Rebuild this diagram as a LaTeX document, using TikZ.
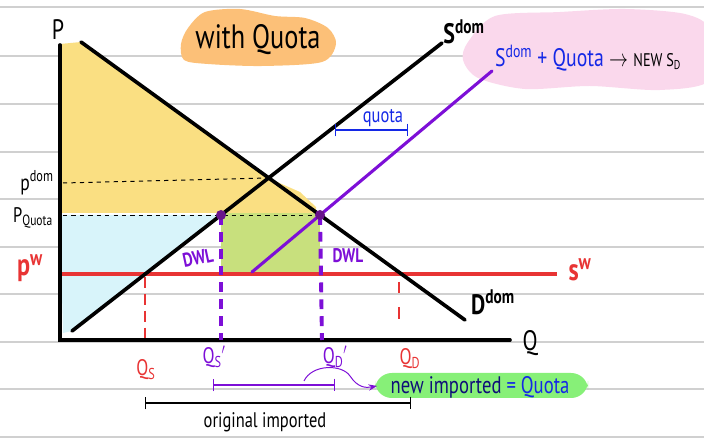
\documentclass[tikz,border=0pt]{standalone}
\usepackage{fontspec}
\setmainfont{PT Sans}
\usepackage{graphicx}
\usetikzlibrary{calc,positioning,arrows.meta}

\definecolor{ruleg}{RGB}{208,208,208}
\definecolor{csurp}{RGB}{250,223,130}
\definecolor{psurp}{RGB}{216,244,250}
\definecolor{rentg}{RGB}{200,224,125}
\definecolor{blobo}{RGB}{252,192,120}
\definecolor{blobp}{RGB}{250,216,236}
\definecolor{blobg}{RGB}{135,240,120}
\definecolor{worldr}{RGB}{232,52,52}
\definecolor{quotap}{RGB}{125,15,215}
\definecolor{dotp}{RGB}{105,20,140}
\definecolor{penb}{RGB}{20,40,230}
\definecolor{penn}{RGB}{15,15,120}

\newcommand{\hand}[1]{\scalebox{0.78}[1]{#1}}

\begin{document}
\begin{tikzpicture}[x=0.025cm,y=-0.025cm,
  curve/.style={line width=2.6pt,line cap=round},
  label/.style={inner sep=0pt},
  brace/.style={line width=0.8pt,{Bar[width=9pt]}-{Bar[width=9pt]}}]
\useasboundingbox (0,0) rectangle (704,438);

% notebook lines
\foreach \y in {7,56,104,152,199,247,294,342,389,437}
  \draw[ruleg,line width=1pt] (0,\y) -- (704,\y);

% key points
\coordinate (O) at (60,340);
\coordinate (Ptop) at (60,45);
\coordinate (Qend) at (510,340);
\coordinate (D1) at (81,42);
\coordinate (D2) at (465,320);
\coordinate (S1) at (72,331);
\coordinate (S2) at (442,43);
\coordinate (N1) at (252,272);
\coordinate (N2) at (492,71);
\coordinate (E) at (268,178);
\coordinate (A) at (221,215);
\coordinate (B) at (320,215);
\coordinate (W1) at (60,274);
\coordinate (W2) at (557,274);

% blobs behind the text
\fill[blobo] plot[smooth cycle] coordinates {(188,28) (205,12) (240,9) (275,16) (305,18) (328,28) (336,44) (322,62) (262,66) (208,64) (184,60) (181,44)};
\fill[blobp] plot[smooth cycle] coordinates {(468,42) (495,16) (560,12) (625,9) (685,14) (710,30) (710,80) (660,90) (590,86) (525,89) (478,78) (463,60)};
\fill[blobg,rounded corners=12pt] (375,373) rectangle (588,398);

% surplus areas
\fill[csurp] (60,44) -- (D1) -- (E) -- (300,192) -- (316,207) -- (316,213) -- (60,213) -- cycle;
\fill[psurp] (60,215) -- (A) -- (S1) -- (63,333) -- cycle;
\fill[rentg] (221,213) rectangle (320,276);

% price lines
\draw[dashed,line width=0.7pt] (63,183) -- (E);
\draw[dashed,line width=0.7pt] (63,215) -- (B);
\draw[worldr,line width=2.6pt] (W1) -- (W2);
\draw[worldr,line width=0.9pt,dash pattern=on 8pt off 4pt] (145,277) -- (145,340);
\draw[worldr,line width=0.9pt,dash pattern=on 8pt off 10pt] (399,282) -- (399,332);

% curves and axes
\draw[curve] (Ptop) -- (O) -- (Qend);
\draw[curve] (D1) -- (D2);
\draw[curve] (S1) -- (S2);
\draw[quotap,curve,line width=2.2pt] (N1) -- (N2);
\draw[quotap,line width=2.8pt,dash pattern=on 7pt off 5pt] (A) -- (221,340);
\draw[quotap,line width=2.8pt,dash pattern=on 7pt off 5pt] (B) -- (322,340);
\fill[dotp] (A) circle (5);
\fill[dotp] (B) circle (5);

% axis and curve labels
\node[label,font=\fontsize{20}{22}\selectfont] (Plab) at (58,30) {\hand{P}};
\node[label,font=\fontsize{20}{22}\selectfont] (Qlab) at (530,343) {\hand{Q}};
\node[label,font=\fontsize{16}{18}\selectfont] (pdom) at (37,183) {\hand{p\textsuperscript{dom}}};
\node[label,font=\fontsize{15}{17}\selectfont] (pquota) at (33,218) {\hand{P\textsubscript{Quota}}};
\node[label,worldr,font=\fontsize{22}{24}\bfseries\selectfont] (pw) at (30,268) {\hand{p\textsuperscript{w}}};
\node[label,worldr,font=\fontsize{22}{24}\bfseries\selectfont] (sw) at (580,270) {\hand{s\textsuperscript{w}}};
\node[label,font=\fontsize{20}{22}\bfseries\selectfont] (sdom) at (464,32) {\hand{S\textsuperscript{dom}}};
\node[label,font=\fontsize{20}{22}\bfseries\selectfont] (ddom) at (493,302) {\hand{D\textsuperscript{dom}}};
\node[label,quotap,font=\fontsize{14}{16}\bfseries\selectfont,rotate=12] (dwl1) at (198,258) {\hand{DWL}};
\node[label,quotap,font=\fontsize{14}{16}\bfseries\selectfont] (dwl2) at (348,256) {\hand{DWL}};

% quantity labels
\node[label,worldr,font=\fontsize{16}{18}\selectfont] (qs) at (146,370) {\hand{Q\textsubscript{S}}};
\node[label,quotap,font=\fontsize{16}{18}\selectfont] (qsp) at (214,357) {\hand{Q\textsubscript{S}$'$}};
\node[label,quotap,font=\fontsize{16}{18}\selectfont] (qdp) at (335,357) {\hand{Q\textsubscript{D}$'$}};
\node[label,worldr,font=\fontsize{16}{18}\selectfont] (qd) at (410,359) {\hand{Q\textsubscript{D}}};

% quota brace on the supply shift
\coordinate (qb1) at (335,130);
\coordinate (qb2) at (408,130);
\draw[penb,brace] (qb1) -- (qb2);
\node[label,penb,font=\fontsize{15}{17}\selectfont] (qtxt) at (383,118) {\hand{quota}};

% title and notes
\node[label,font=\fontsize{24}{26}\selectfont] (title) at (258,40) {\hand{with Quota}};
\node[label,font=\fontsize{18}{20}\selectfont] (newsup) at (588,58) {\hand{{\color{penb}S\textsuperscript{dom} + Quota} $\rightarrow$ {\fontsize{13}{15}\selectfont NEW S\textsubscript{D}}}};

% imports
\coordinate (nb1) at (213,385);
\coordinate (nb2) at (335,385);
\draw[quotap,brace] (nb1) -- (nb2);
\coordinate (arr1) at (304,381);
\coordinate (arr2) at (377,386);
\draw[quotap,line width=0.7pt,-{Stealth[length=6pt]}] (arr1) .. controls (312,364) and (342,364) .. (350,376) .. controls (358,388) and (366,388) .. (arr2);
\node[label,font=\fontsize{17}{19}\selectfont] (newimp) at (480,387) {\hand{{\color{penn}new imported} {\color{penb}= Quota}}};
\coordinate (ob1) at (145,403);
\coordinate (ob2) at (411,403);
\draw[brace] (ob1) -- (ob2);
\node[label,font=\fontsize{15}{17}\selectfont] (origimp) at (265,422) {\hand{original imported}};
\end{tikzpicture}
\end{document}
